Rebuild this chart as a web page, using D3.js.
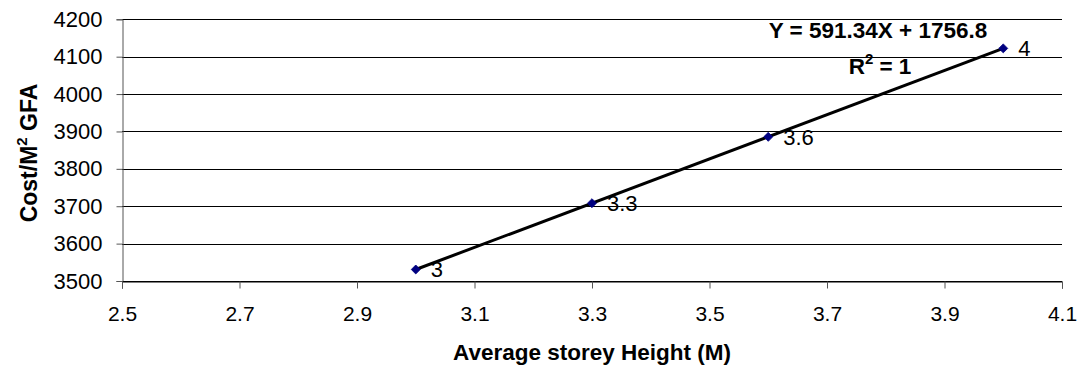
<!DOCTYPE html>
<html>
<head>
<meta charset="utf-8">
<script src="https://cdn.jsdelivr.net/npm/d3@7"></script>
<style>
  html, body { margin: 0; padding: 0; background: #fff; }
  svg { display: block; font-family: "Liberation Sans", Arial, sans-serif; }
</style>
</head>
<body>
<svg id="chart" width="1085" height="371"></svg>
<script>
// ---- data ----
const heights = [3, 3.3, 3.6, 4];                 // Average storey height (M)
const costs = [3530.8, 3708.2, 3885.6, 4122.2];   // Cost / M2 GFA
const pointLabels = ["3", "3.3", "3.6", "4"];
const xTicks = [2.5, 2.7, 2.9, 3.1, 3.3, 3.5, 3.7, 3.9, 4.1];
const yTicks = [3500, 3600, 3700, 3800, 3900, 4000, 4100, 4200];
const equationText = ["Y = 591.34X + 1756.8"];

// ---- layout ----
const W = 1085, H = 371;
const m = { left: 122, right: 1085 - 1062, top: 19.3, bottom: 371 - 281 };
const svg = d3.select("#chart");

const x = d3.scaleLinear().domain([2.5, 4.1]).range([m.left, W - m.right]);
const y = d3.scaleLinear().domain([3500, 4200]).range([H - m.bottom, m.top]);

// gridlines
svg.append("g")
  .selectAll("line")
  .data(yTicks)
  .join("line")
  .attr("x1", m.left).attr("x2", W - m.right)
  .attr("y1", d => Math.round(y(d)) + 0.5).attr("y2", d => Math.round(y(d)) + 0.5)
  .attr("stroke", "#000").attr("stroke-width", 1);

// y axis
const yAxis = svg.append("g")
  .attr("transform", `translate(${m.left + 0.5},0)`)
  .call(d3.axisLeft(y).tickValues(yTicks).tickSize(6).tickPadding(14).tickFormat(d3.format("d")));
yAxis.select(".domain").attr("stroke", "#555");
yAxis.selectAll(".tick line").attr("stroke", "#555");
yAxis.selectAll("text").attr("font-size", 22).attr("fill", "#000")
  .attr("font-family", "'Liberation Sans', Arial, sans-serif");

// x axis
const xAxis = svg.append("g")
  .attr("transform", `translate(0,${Math.round(y(3500)) + 0.5})`)
  .call(d3.axisBottom(x).tickValues(xTicks).tickSize(7).tickPadding(18).tickFormat(d3.format(".1f")));
xAxis.select(".domain").attr("stroke", "#000");
xAxis.selectAll(".tick line").attr("stroke", "#555");
xAxis.selectAll("text").attr("font-size", 21).attr("fill", "#000")
  .attr("font-family", "'Liberation Sans', Arial, sans-serif");

// linear trendline (least squares from the data)
const mx = d3.mean(heights), my = d3.mean(costs);
const slope = d3.sum(heights, (h, i) => (h - mx) * (costs[i] - my)) / d3.sum(heights, h => (h - mx) ** 2);
const intercept = my - slope * mx;
const xExt = d3.extent(heights);
svg.append("line")
  .attr("x1", x(xExt[0])).attr("y1", y(slope * xExt[0] + intercept))
  .attr("x2", x(xExt[1])).attr("y2", y(slope * xExt[1] + intercept))
  .attr("stroke", "#000").attr("stroke-width", 3);

// markers (diamonds)
svg.append("g")
  .selectAll("path")
  .data(heights)
  .join("path")
  .attr("d", d3.symbol(d3.symbolSquare, 40)())
  .attr("transform", (d, i) => `translate(${x(d)},${y(costs[i])}) rotate(45)`)
  .attr("fill", "#000080").attr("stroke", "#000080").attr("stroke-width", 0.8);

// data labels
svg.append("g")
  .selectAll("text")
  .data(heights)
  .join("text")
  .attr("x", d => x(d) + 15)
  .attr("y", (d, i) => y(costs[i]))
  .attr("dy", "0.36em")
  .attr("font-size", 22)
  .attr("fill", "#000")
  .text((d, i) => pointLabels[i]);

// equation + R^2
svg.append("text")
  .attr("x", 878).attr("y", 38)
  .attr("text-anchor", "middle")
  .attr("font-size", 22.5).attr("font-weight", "bold")
  .text(equationText[0]);
const r2 = svg.append("text")
  .attr("x", 880).attr("y", 74)
  .attr("text-anchor", "middle")
  .attr("font-size", 22.5).attr("font-weight", "bold");
r2.append("tspan").text("R");
r2.append("tspan").attr("dy", -10).attr("font-size", 15).text("2");
r2.append("tspan").attr("dy", 10).text(" = 1");

// axis titles
svg.append("text")
  .attr("x", (m.left + W - m.right) / 2).attr("y", 360)
  .attr("text-anchor", "middle")
  .attr("font-size", 22.5).attr("font-weight", "bold")
  .text("Average storey Height (M)");

const yt = svg.append("text")
  .attr("transform", `translate(37,153) rotate(-90)`)
  .attr("text-anchor", "middle")
  .attr("font-size", 23).attr("font-weight", "bold");
yt.append("tspan").text("Cost/M");
yt.append("tspan").attr("dy", -10).attr("font-size", 15).text("2");
yt.append("tspan").attr("dy", 10).text(" GFA");
</script>
</body>
</html>
